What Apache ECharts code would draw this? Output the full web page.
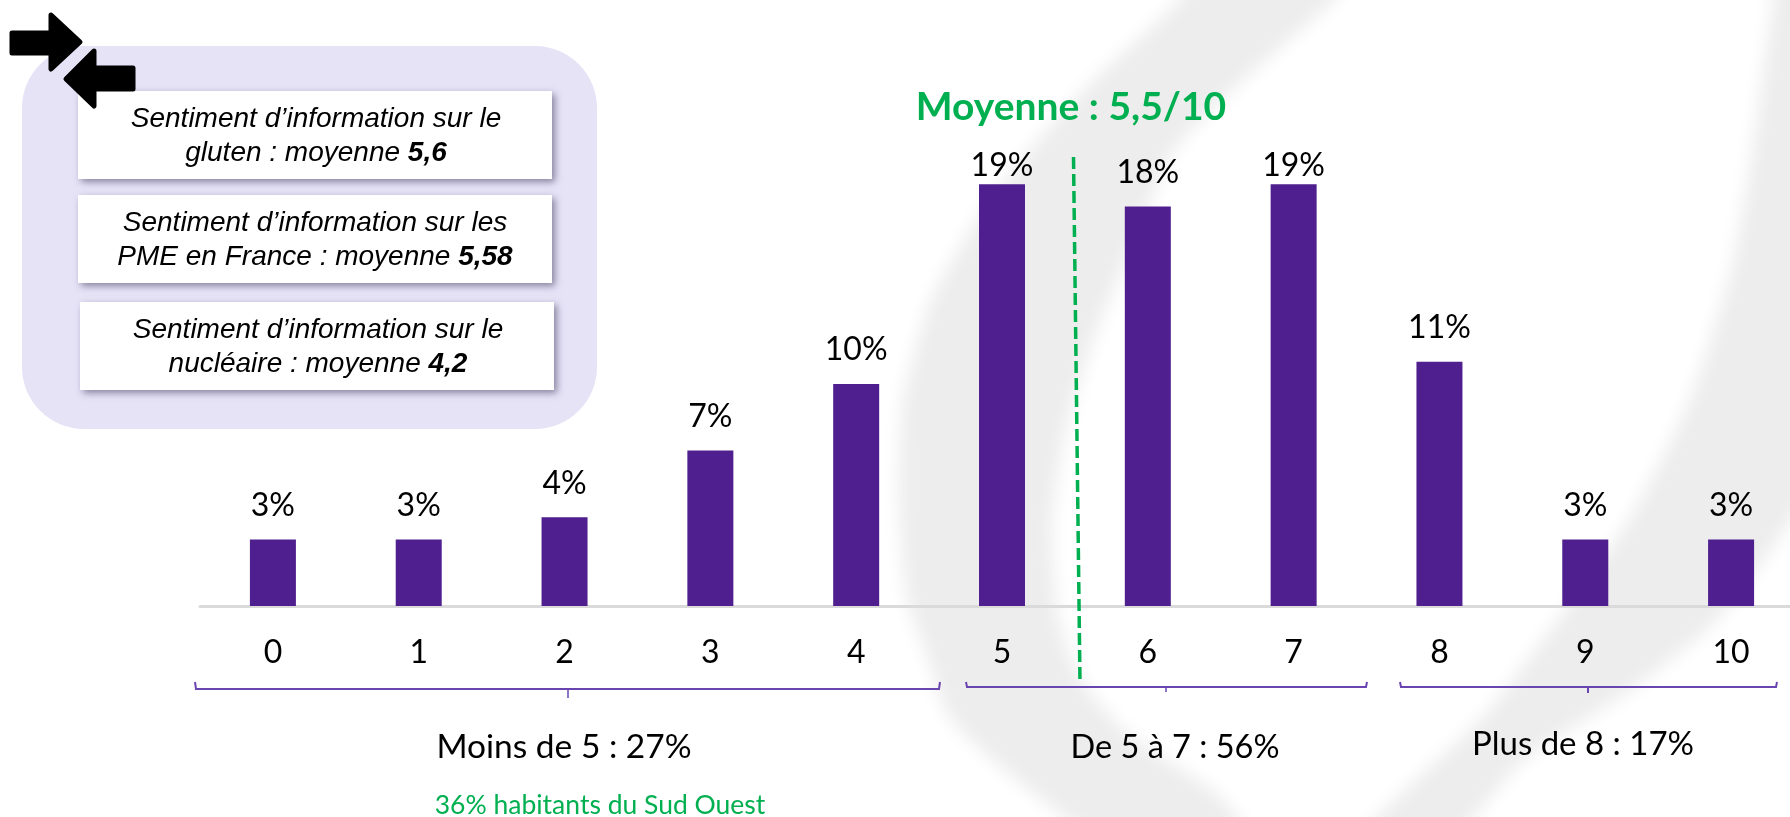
<!DOCTYPE html>
<html><head><meta charset="utf-8">
<style>html,body{margin:0;padding:0;background:#fff}#c{width:1790px;height:817px}</style>
<script src="https://cdn.jsdelivr.net/npm/echarts@6/dist/echarts.min.js"></script>
</head><body><div id="c"></div>
<script>
const categories = ['0','1','2','3','4','5','6','7','8','9','10'];
const percentages = [3,3,4,7,10,19,18,19,11,3,3];
const meanTitle = 'Moyenne : 5,5/10';
const groupLabels = ['Moins de 5 : 27%','De 5 à 7 : 56%','Plus de 8 : 17%'];
const subNote = '36% habitants du Sud Ouest';
const cardLines = [
  ['Sentiment d’information sur le','gluten : moyenne ','5,6'],
  ['Sentiment d’information sur les','PME en France : moyenne ','5,58'],
  ['Sentiment d’information sur le','nucléaire : moyenne ','4,2']
];

const PURPLE='#4f1f8f', GREEN='#00b050', BRACE='#6a45b0', SWOOSH='#ededed';
const FONT='Lato';
const peak=Math.max(...percentages);
const OFF=4000;

function swoosh(points){
  return {type:'polygon',z:-20,silent:true,x:-OFF,shape:{points,smooth:0.2},
    style:{fill:SWOOSH,shadowBlur:18,shadowColor:SWOOSH,shadowOffsetX:OFF}};
}
function brace(x1,x2,y0,y1,w){
  return {type:'polyline',z:5,silent:true,shape:{points:[[x1,y0],[x1+1,y1],[x2-1,y1],[x2,y0]]},
    style:{stroke:BRACE,lineWidth:w,fill:null}};
}
function braceTick(xm,y1,y2,w){
  return {type:'line',z:5,silent:true,shape:{x1:xm,y1:y1,x2:xm,y2:y2},style:{stroke:BRACE,lineWidth:w}};
}
function label(text,cx,cy,size,color,weight){
  return {type:'text',z:6,silent:true,x:cx,y:cy,
    style:{text,fontFamily:FONT,fontSize:size,fill:color,fontWeight:weight||'normal',align:'center',verticalAlign:'middle'}};
}
function card(x,y,w,h,cx,ly1,ly2,lines){
  return [
    {type:'rect',z:20,silent:true,shape:{x,y,width:w,height:h},
      style:{fill:'#fff',shadowBlur:7,shadowOffsetX:3,shadowOffsetY:3,shadowColor:'rgba(60,55,90,0.55)'}},
    {type:'text',z:21,silent:true,x:cx,y:ly1,style:{text:lines[0],fontFamily:'Liberation Sans',fontStyle:'italic',fontSize:28,fill:'#000',align:'center',verticalAlign:'middle'}},
    {type:'text',z:21,silent:true,x:cx,y:ly2,style:{
      text:'{i|'+lines[1]+'}{b|'+lines[2]+'}',align:'center',verticalAlign:'middle',
      rich:{i:{fontFamily:'Liberation Sans',fontStyle:'italic',fontSize:28,fill:'#000'},
            b:{fontFamily:'Liberation Sans',fontStyle:'italic',fontWeight:'bold',fontSize:28,fill:'#000'}}}}
  ];
}
function arrow(points,z){
  return {type:'polygon',z,silent:true,shape:{points},
    style:{fill:'#000',stroke:'#000',lineWidth:5,lineJoin:'round'}};
}

const graphics=[
  swoosh([[1195,-30],[1180,0],[1097,77],[1038,140],[979,217],[931,300],[903,400],[899,500],[907,600],[925,650],[949,717],[1008,773],[1097,835],[1245,835],[1216,793],[1127,733],[1079,677],[1058,617],[1052,520],[1068,420],[1097,330],[1130,250],[1174,150],[1240,83],[1334,0],[1350,-30]]),
  swoosh([[1776,-30],[1773,0],[1755,133],[1732,267],[1690,400],[1631,517],[1560,617],[1483,717],[1364,835],[1453,835],[1524,760],[1631,690],[1720,617],[1815,470],[1830,-30]]),

  {type:'rect',z:10,silent:true,shape:{x:22,y:46,width:575,height:383,r:62},style:{fill:'#e6e3f7'}},
  ...card(78,91,474,88,316,119,153,cardLines[0]),
  ...card(78,195,474,88,315,223,257,cardLines[1]),
  ...card(80,302,474,88,318,330,364,cardLines[2]),
  arrow([[12,33],[51,33],[51,15],[80,42],[51,69],[51,53],[12,53]],30),
  arrow([[133,68],[94,68],[94,51],[66,79],[94,106],[94,89],[133,89]],30),

  {type:'line',z:6,silent:true,shape:{x1:1073.5,y1:157,x2:1080,y2:683},
    style:{stroke:GREEN,lineWidth:3.5,lineDash:[12,5]}},

  brace(195,940,682,689,2), braceTick(568,689,698,1.5),
  brace(966,1367,682,687,2), braceTick(1166,687,692,1.5),
  brace(1400,1777,682,687,2), braceTick(1588,687,693,2),

  label(meanTitle,1071,107,39,GREEN,'bold'),
  label(groupLabels[0],564,747,33.5,'#000'),
  label(groupLabels[1],1175,748,32.5,'#000'),
  label(groupLabels[2],1583,744,33,'#000'),
  label(subNote,600,805,26.5,GREEN)
];

const chart=echarts.init(document.getElementById('c'),null,{renderer:'canvas'});
chart.setOption({
  animation:false,
  backgroundColor:'#fff',
  grid:{left:200,right:-14,top:162,bottom:211,containLabel:false,outerBoundsMode:'none'},
  xAxis:{type:'category',data:categories,
    axisLine:{show:true,lineStyle:{color:'#dadada',width:3}},
    axisTick:{show:false},
    axisLabel:{show:true,interval:0,margin:31,fontFamily:FONT,fontSize:32,color:'#000'}},
  yAxis:{type:'value',min:0,max:20,show:false,splitLine:{show:false}},
  series:[{type:'bar',barWidth:46,itemStyle:{color:PURPLE},
    data:percentages.map(v=>({value:v,label:{distance:v===peak?3:18}})),
    label:{show:true,position:'top',formatter:p=>p.value+'%',fontFamily:FONT,fontSize:32,color:'#000'}}],
  graphic:graphics
});
</script></body></html>
